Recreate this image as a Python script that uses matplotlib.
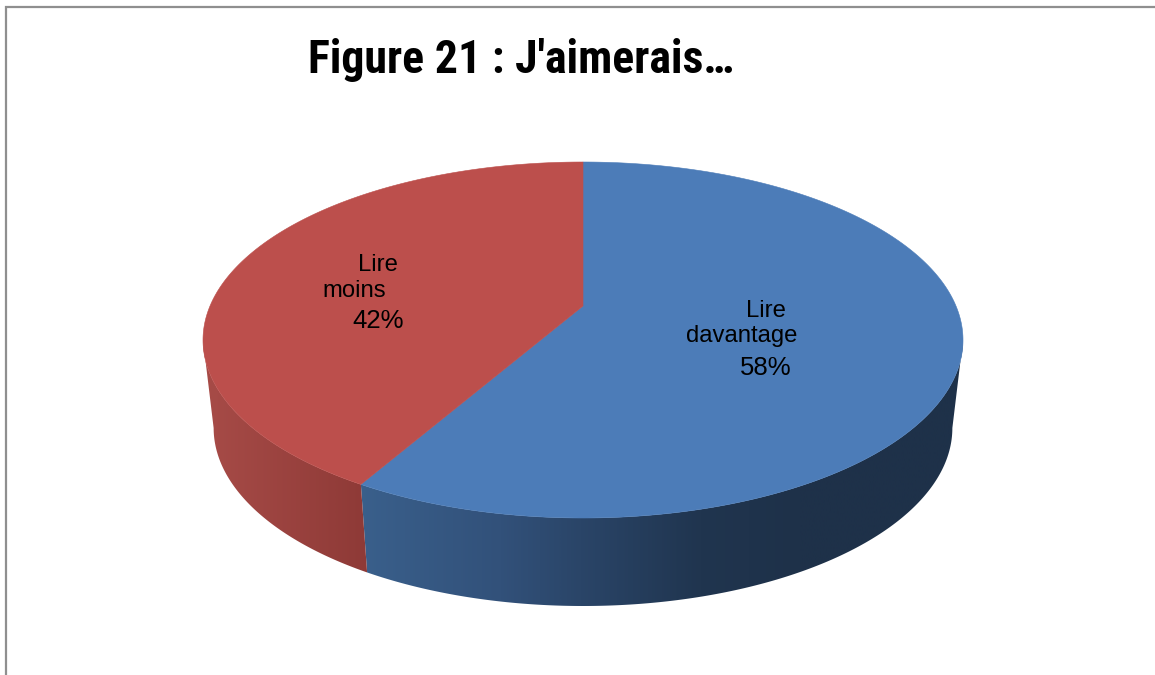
import numpy as np
import matplotlib
matplotlib.use("Agg")
import matplotlib.pyplot as plt
from matplotlib.colors import LinearSegmentedColormap, to_rgb
from matplotlib.patches import Polygon

categories = ['Lire davantage', 'Lire moins']
shares = [58, 42]
top_colors = ['#4c7cb8', '#bc4f4c']
title = "Figure 21 : J'aimerais\u2026"

# pie geometry in pixels
cx = 583
top_y, bottom_y = 162, 518
apex_y = 306
half_w = 380
c = 0.2247
depth = 88
shrink = 0.972

# wall shading, by x position
wall_x = [[355, 500, 580, 700, 800, 970], [198, 375]]
wall_col = [['#3a608c', '#32517a', '#2a4568', '#20354f', '#1e3149', '#1e3149'],
            ['#a84c48', '#8d3936']]

b = (top_y * (1 + c) + bottom_y * (1 - c)) / 2
a = top_y * (1 + c) - b
d = half_w * np.sqrt(1 - c ** 2)


def rim(theta):
    # theta runs clockwise from 12 o'clock
    u, v = np.sin(theta), np.cos(theta)
    w = 1 + c * v
    return cx + d * u / w, (a * v + b) / w


fig = plt.figure(figsize=(11.55, 6.75), dpi=100)
ax = fig.add_axes([0, 0, 1, 1])

# chart frame, cut by the edge of the picture
ax.plot([6, 6, 1155], [675, 7, 7], color='#8f8f8f', lw=1.6, solid_joinstyle='miter')

edges = np.cumsum([0] + shares) / sum(shares) * 2 * np.pi

# only the front of the rim has a visible wall
grid = np.linspace(0, 2 * np.pi, 3000)
front_start = grid[np.argmax(rim(grid)[0])]
front_end = grid[np.argmin(rim(grid)[0])]

# side wall, a horizontal gradient clipped to the wall outline
for i in range(len(shares)):
    t = np.linspace(max(edges[i], front_start), min(edges[i + 1], front_end), 400)
    x, y = rim(t)
    xb = cx + (x - cx) * shrink
    yb = y + depth
    outline = Polygon(np.c_[np.r_[x, xb[::-1]], np.r_[y, yb[::-1]]], closed=True,
                      transform=ax.transData, fc='none', ec='none')
    ax.add_patch(outline)
    x0, x1 = wall_x[i][0], wall_x[i][-1]
    stops = [(v - x0) / (x1 - x0) for v in wall_x[i]]
    cmap = LinearSegmentedColormap.from_list('wall', list(zip(stops, [to_rgb(k) for k in wall_col[i]])))
    im = ax.imshow(np.linspace(0, 1, 512)[None, :], cmap=cmap, aspect='auto', zorder=2,
                   extent=[x0, x1, 620, 150], interpolation='bilinear')
    im.set_clip_path(outline)

# top faces
for i in range(len(shares)):
    t = np.linspace(edges[i], edges[i + 1], 400)
    x, y = rim(t)
    ax.fill(np.r_[cx, x], np.r_[apex_y, y], color=top_colors[i], lw=0.4, zorder=3)

ax.set_xlim(0, 1155)
ax.set_ylim(675, 0)
ax.axis('off')

ax.text(308, 73, title, fontsize=33, fontweight='bold', ha='left', va='baseline',
        family=['Roboto Condensed', 'Liberation Sans'], color='black', zorder=5)

label_font = dict(fontsize=17.2, family='Liberation Sans', color='black', va='baseline', ha='center', zorder=5)
pct_font = dict(label_font, fontsize=18.5)
ax.text(766, 317, categories[0].split()[0], **label_font)
ax.text(742, 342, categories[0].split()[1], **label_font)
ax.text(766, 375, f'{shares[0]}%', **pct_font)
ax.text(378, 271, categories[1].split()[0], **label_font)
ax.text(354, 297, categories[1].split()[1], **label_font)
ax.text(378, 328, f'{shares[1]}%', **pct_font)

fig.savefig('out.png', dpi=100)
